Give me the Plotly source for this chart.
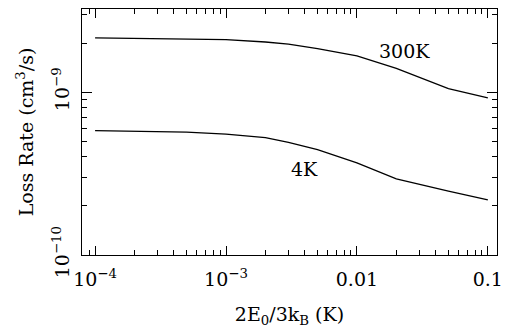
import plotly.graph_objects as go

# Data
x_300K = [1e-4, 2e-4, 5e-4, 1e-3, 2e-3, 3e-3, 5e-3, 0.01, 0.02, 0.05, 0.1]
y_300K = [2.15e-9, 2.14e-9, 2.12e-9, 2.10e-9, 2.03e-9, 1.97e-9, 1.85e-9, 1.67e-9, 1.40e-9, 1.05e-9, 9.2e-10]

x_4K = [1e-4, 2e-4, 5e-4, 1e-3, 2e-3, 3e-3, 5e-3, 0.01, 0.02, 0.05, 0.1]
y_4K = [5.80e-10, 5.76e-10, 5.68e-10, 5.52e-10, 5.25e-10, 4.91e-10, 4.43e-10, 3.68e-10, 2.93e-10, 2.47e-10, 2.18e-10]

x_tickvals = [1e-4, 1e-3, 1e-2, 1e-1]
x_ticktext = ["10<sup>\u22124</sup>", "10<sup>\u22123</sup>", "0.01", "0.1"]
y_tickvals = [1e-10, 1e-9]
y_ticktext = ["10<sup>\u221210</sup>", "10<sup>\u22129</sup>"]

x_minor = [m * 10.0 ** e for e in range(-5, 0) for m in range(2, 10)]
y_minor = [m * 10.0 ** e for e in range(-11, -8) for m in range(2, 10)]

X_RANGE = [-4.10, -0.93]
Y_RANGE = [-10.0, -8.49]

FONT = "DejaVu Serif"
TXT = dict(family=FONT, size=19, color="black")

fig = go.Figure()
fig.add_trace(go.Scatter(x=x_300K, y=y_300K, mode="lines",
                         line=dict(color="black", width=1.3), showlegend=False))
fig.add_trace(go.Scatter(x=x_4K, y=y_4K, mode="lines",
                         line=dict(color="black", width=1.3), showlegend=False))
# invisible trace to carry the minor-tick overlay axes
fig.add_trace(go.Scatter(x=x_300K[:1], y=y_300K[:1], xaxis="x2", yaxis="y2",
                         mode="markers", marker=dict(opacity=0), showlegend=False,
                         hoverinfo="skip"))

fig.add_annotation(x=-1.635, y=-8.75, xref="x", yref="y", text="300K", showarrow=False,
                   font=TXT)
fig.add_annotation(x=-2.4, y=-9.47, xref="x", yref="y", text="4K", showarrow=False,
                   font=TXT)

common = dict(type="log", ticks="inside", tickwidth=1, tickcolor="black",
              showline=True, linecolor="black", linewidth=1, mirror="allticks",
              showgrid=False, zeroline=False, automargin=False)

fig.update_layout(
    xaxis=dict(**common, range=X_RANGE,
               tickmode="array", tickvals=x_tickvals, ticktext=x_ticktext,
               ticklen=9, tickfont=TXT, ticklabelstandoff=7,
               title=dict(text="2E<sub>0</sub>/3k<sub>B</sub> (K)", font=TXT, standoff=18)),
    yaxis=dict(**common, range=Y_RANGE,
               tickmode="array", tickvals=y_tickvals, ticktext=y_ticktext,
               tickangle=-90, ticklen=10, tickfont=TXT, ticklabelstandoff=4,
               title=dict(text="Loss Rate (cm<sup>3</sup>/s)", font=TXT, standoff=10)),
    xaxis2=dict(**common, range=X_RANGE, overlaying="x", anchor="y2", side="bottom",
                tickmode="array", tickvals=x_minor, ticklen=5, showticklabels=False),
    yaxis2=dict(**common, range=Y_RANGE, overlaying="y", anchor="x2", side="left",
                tickmode="array", tickvals=y_minor, ticklen=5, showticklabels=False),
    width=508, height=330,
    margin=dict(l=82, r=11, t=9, b=75),
    paper_bgcolor="white", plot_bgcolor="white",
    font=dict(family=FONT, color="black"),
)

fig.write_html("out.html", config={"displayModeBar": False},
               post_script="document.body.style.margin='0';document.body.style.overflow='hidden';")
